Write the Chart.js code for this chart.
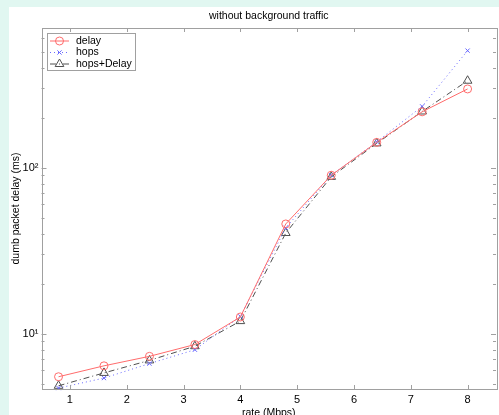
<!DOCTYPE html>
<html>
<head>
<meta charset="utf-8">
<script src="https://cdn.jsdelivr.net/npm/chart.js@4/dist/chart.umd.min.js"></script>
<style>
  html, body { margin: 0; padding: 0; overflow: hidden; background: #e1f7f1; }
  canvas { display: block; }
</style>
</head>
<body>
<canvas id="delayChart" width="502" height="415"></canvas>
<script>
// rate (Mbps) on the x axis
var rates = [0.8, 1.6, 2.4, 3.2, 4.0, 4.8, 5.6, 6.4, 7.2, 8.0];

// dumb packet delay (ms)
var delayValues = [5.5, 6.4, 7.3, 8.6, 12.6, 45.8, 90, 142, 217, 298];
var hopsValues = [4.7, 5.4, 6.6, 8.0, 12.7, 43.4, 90, 143, 234, 507];
var hopsDelayValues = [4.85, 5.8, 6.9, 8.4, 11.9, 40.4, 88, 140, 218, 334];

var xTicks = [1, 2, 3, 4, 5, 6, 7, 8];
var yMajorTicks = [10, 100];
var yTickLabels = ['10\u00b9', '10\u00b2'];

var chartTitle = 'without background traffic';

var FONT = 'Liberation Sans, Arial, sans-serif';
Chart.defaults.font.family = FONT;
Chart.defaults.font.size = 11;
Chart.defaults.color = '#000';

function points(values) {
  return rates.map(function (r, i) { return {x: r, y: values[i]}; });
}

var series = [
  {label: 'delay', data: points(delayValues), color: '#ff6c6c', dash: [], style: 'circle', radius: 4},
  {label: 'hops', data: points(hopsValues), color: '#6a6aff', dash: [1, 3], style: 'crossRot', radius: 3},
  {label: 'hops+Delay', data: points(hopsDelayValues), color: '#505050', dash: [6, 3, 1, 3], style: 'triangle', radius: 5}
];

// white figure panel on the mint page
var panelBg = {
  id: 'panelBg',
  beforeDraw: function (chart) {
    var ctx = chart.ctx;
    ctx.save();
    ctx.fillStyle = '#e1f7f1';
    ctx.fillRect(0, 0, chart.width, chart.height);
    ctx.fillStyle = '#ffffff';
    ctx.fillRect(9, 7, chart.width - 9, chart.height - 7);
    ctx.restore();
  }
};

// matlab style box with inward ticks, title centred over the axes
var boxTicks = {
  id: 'boxTicks',
  afterDraw: function (chart) {
    var ctx = chart.ctx, a = chart.chartArea;
    var xs = chart.scales.x, ys = chart.scales.y;
    ctx.save();
    ctx.strokeStyle = '#a0a0a0';
    ctx.lineWidth = 1;
    ctx.strokeRect(Math.round(a.left) + 0.5, Math.round(a.top) + 0.5,
      Math.round(a.right - a.left), Math.round(a.bottom - a.top));
    ctx.beginPath();
    xTicks.forEach(function (v) {
      var px = Math.round(xs.getPixelForValue(v)) + 0.5;
      ctx.moveTo(px, a.bottom); ctx.lineTo(px, a.bottom - 4);
      ctx.moveTo(px, a.top); ctx.lineTo(px, a.top + 4);
    });
    for (var d = 1; d <= 100; d *= 10) {
      for (var m = 1; m <= 9; m++) {
        var v = m * d;
        if (v < ys.min || v > ys.max) continue;
        var py = Math.round(ys.getPixelForValue(v)) + 0.5;
        var len = m === 1 ? 5 : 3;
        ctx.moveTo(a.left, py); ctx.lineTo(a.left + len, py);
        ctx.moveTo(a.right, py); ctx.lineTo(a.right - len, py);
      }
    }
    ctx.stroke();

    ctx.fillStyle = '#000';
    ctx.font = '10.5px ' + FONT;
    ctx.textAlign = 'center';
    ctx.textBaseline = 'middle';
    ctx.fillText(chartTitle, (a.left + a.right) / 2, 16);
    ctx.restore();
  }
};

// legend box inside the upper left corner
var boxLegend = {
  id: 'boxLegend',
  afterDraw: function (chart) {
    var ctx = chart.ctx;
    ctx.save();
    ctx.fillStyle = '#fff';
    ctx.fillRect(47, 33, 88, 37);
    ctx.strokeStyle = '#a0a0a0';
    ctx.lineWidth = 1;
    ctx.strokeRect(47.5, 33.5, 88, 37);
    series.forEach(function (s, i) {
      var y = 41 + i * 11.5;
      ctx.strokeStyle = s.color;
      ctx.setLineDash(s.dash);
      ctx.beginPath();
      ctx.moveTo(50, y); ctx.lineTo(69, y);
      ctx.stroke();
      ctx.setLineDash([]);
      ctx.fillStyle = 'rgba(0,0,0,0)';
      Chart.helpers.drawPoint(ctx, {pointStyle: s.style, radius: s.radius, borderWidth: 1}, 59.5, y);
      ctx.fillStyle = '#000';
      ctx.font = '10.5px ' + FONT;
      ctx.textAlign = 'left';
      ctx.textBaseline = 'middle';
      ctx.fillText(s.label, 76, y);
    });
    ctx.restore();
  }
};

var chart = new Chart(document.getElementById('delayChart'), {
  type: 'line',
  data: {
    datasets: series.map(function (s) {
      return {
        label: s.label,
        data: s.data,
        borderColor: s.color,
        backgroundColor: 'rgba(0,0,0,0)',
        borderWidth: 1,
        borderDash: s.dash,
        pointStyle: s.style,
        pointRadius: s.radius,
        pointBorderColor: s.color,
        pointBorderWidth: 1,
        pointBackgroundColor: 'rgba(0,0,0,0)',
        tension: 0
      };
    })
  },
  options: {
    responsive: false,
    animation: false,
    clip: false,
    layout: {padding: {left: 0, right: 1, top: 28, bottom: 0}},
    plugins: {
      legend: {display: false},
      tooltip: {enabled: false},
      title: {display: false}
    },
    scales: {
      x: {
        type: 'linear',
        min: 0.5,
        max: 8.5,
        afterBuildTicks: function (s) { s.ticks = xTicks.map(function (v) { return {value: v}; }); },
        afterFit: function (s) { s.height = 26; },
        grid: {display: false, drawTicks: false},
        border: {display: false},
        ticks: {padding: 4, maxRotation: 0, color: '#000'},
        title: {display: true, text: 'rate (Mbps)', color: '#000', font: {size: 10.5}, padding: {top: 0, bottom: -4}}
      },
      y: {
        type: 'logarithmic',
        min: 4.64,
        max: 694,
        afterBuildTicks: function (s) { s.ticks = yMajorTicks.map(function (v) { return {value: v}; }); },
        afterFit: function (s) { s.width = 41.5; },
        grid: {display: false, drawTicks: false},
        border: {display: false},
        ticks: {
          padding: 3,
          color: '#000',
          callback: function (v) {
            var i = yMajorTicks.indexOf(v);
            return i >= 0 ? yTickLabels[i] : '';
          }
        },
        title: {display: true, text: 'dumb packet delay (ms)', color: '#000', font: {size: 10.5}, padding: {top: 10, bottom: 0}}
      }
    }
  },
  plugins: [panelBg, boxTicks, boxLegend]
});
</script>
</body>
</html>
